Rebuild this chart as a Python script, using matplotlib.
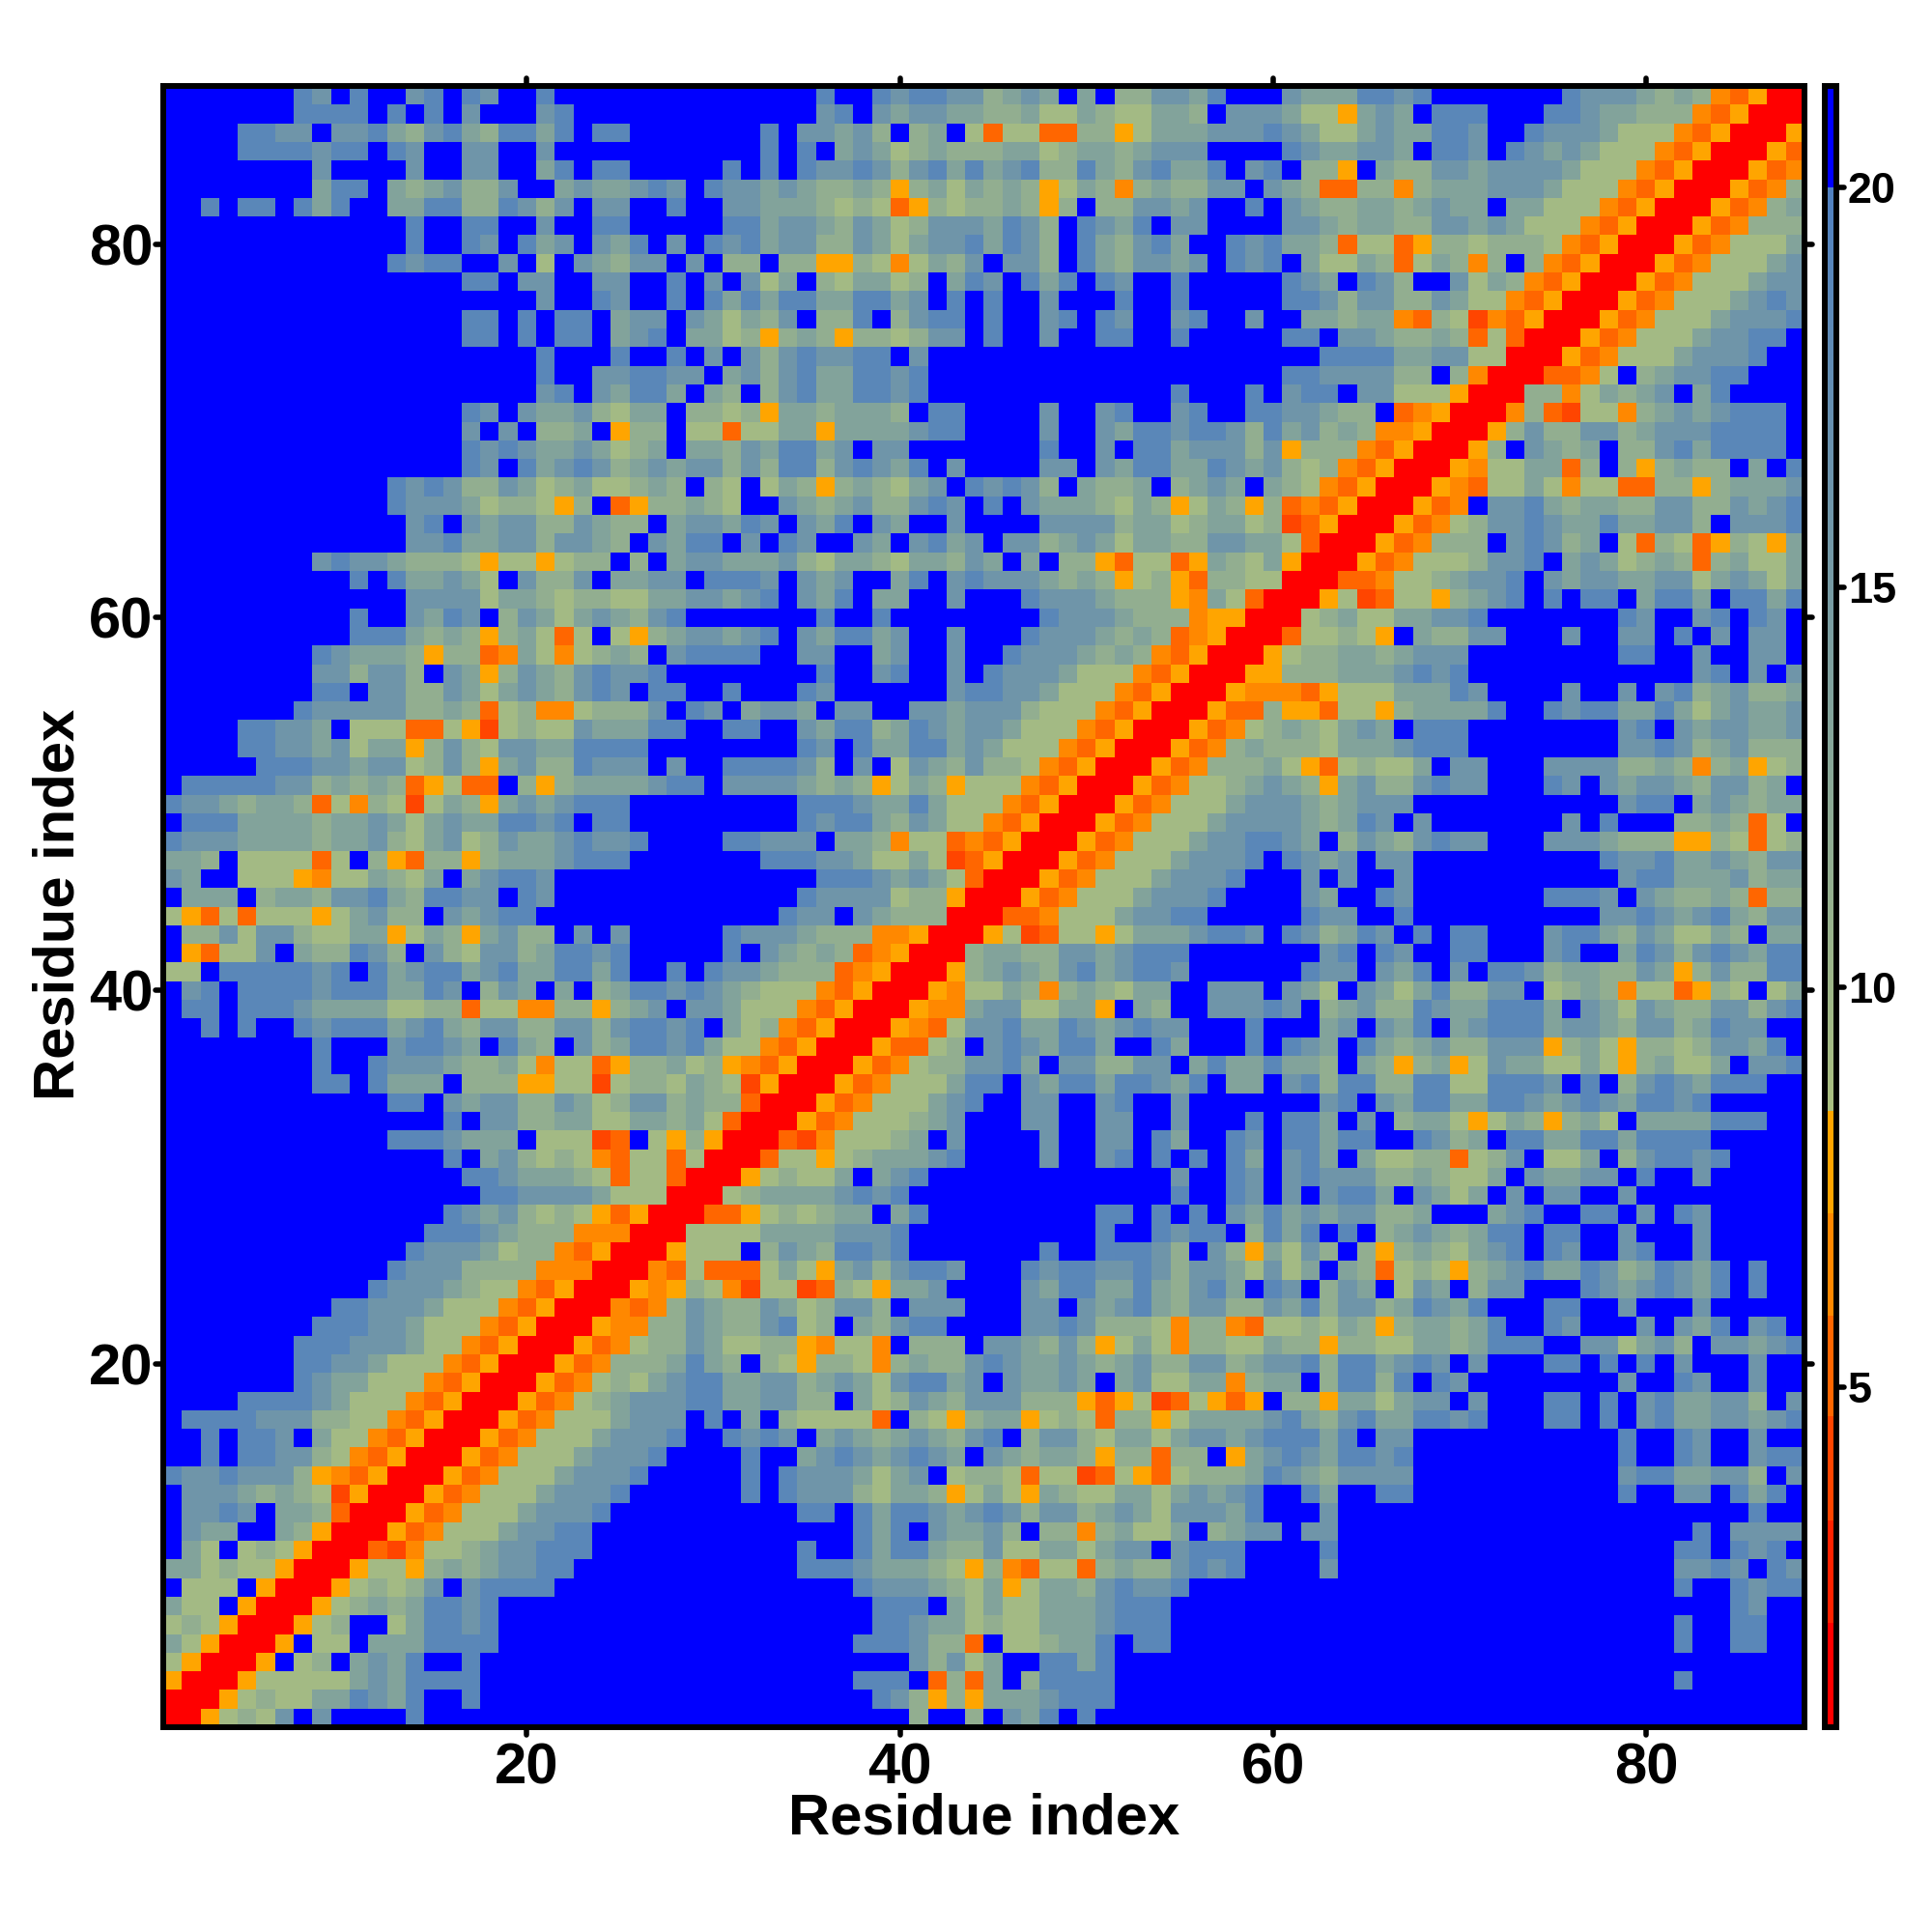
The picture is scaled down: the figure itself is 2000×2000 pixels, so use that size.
import matplotlib
matplotlib.use('Agg')
import matplotlib.pyplot as plt
import numpy as np
from matplotlib.colors import LinearSegmentedColormap
from matplotlib.markers import MarkerStyle

# distance map, one string per row from residue 88 down to residue 1
# . over 20, 9-5 steel blue to pale green, y u t s orange shades, r red
ROWS_LEFT = [
    ".......98.9..89.98..9........",
    ".......9999.9.9.8...89.......",
    "....9988.8897689769979.99....",
    "....9999899.98..88..8........",
    "........8....8..88..79.99....",
    "........799.7678668..7877898.",
    "..9.99.979..7799669868.88..9.",
    ".............9..99..8..99....",
    ".............9..98.978.879.8.",
    "............9899..8.5.87688.8",
    "................99.88..88..9.",
    "....................8..98..9.",
    "................99.9.99.788.8",
    "................99.9.99.789.7",
    "....................9...9..9.",
    "....................9..889988",
    "....................89.87997.",
    "................98.87786577.6",
    "................8.8.667.y66.5",
    "................98987787567.7",
    "................98.9789867878",
    "............9898668756755676.",
    "............988875665y6.ty667",
    ".............89.8788668766.78",
    ".............889778868876.879",
    "........898876665y55y566.6.78",
    "..........9.977875.8668.7788.",
    ".............8888577656655778",
    "..........9..8798.6875787689.",
    "..........9997676y675t5.5y678",
    "........987776y66tu75u5676.89",
    "........886886.87y687689889..",
    "........99.88668757876898.99.",
    ".......9888886676t56uu56668.9",
    "....99887.555tt5ys5655877799.",
    "....998878577y686588779999...",
    ".....999887885686y78669888.8.",
    ".999998867676ty5tt.6y67777899",
    "98876776t5u65s576y7878999....",
    ".999777767787578779989.99....",
    "98887777677865785687789889...",
    "776.5555t5.6yt66y67778999....",
    "87..555yu557657.78998........",
    ".777.6776889769988.98........",
    "5yt5t555y57866.87899.........",
    ".66858865577y576y7866.8.8....",
    ".yt558.766986.86588679989....",
    "55.9999989.97899789779979..9.",
    ".89.999989997798.687.7.679989",
    ".99.999877775566t55uu66y678.8",
    "..9.9..9899978976886688689989",
    "........9...89987.976.8679989",
    "........9..988876675u55ty6675",
    "........99.9777.666yy55s56657",
    "............99.87886687568867",
    "...............9.886677557767",
    "............9998777.555st.5y6",
    "...............9.786565ut55t5",
    "................99877765t55tr",
    ".................9988887555rr",
    "...............98786565ytyrrr",
    "..............99987666uuurrr5",
    ".............98887566utyrrry5",
    "............98886666uuurrrut5",
    "...........98887655utyrrryuy6",
    ".........998887555utyrrrutu68",
    "........999887555utyrrryuu668",
    ".......999888755utyrrrytu5668",
    ".......99887555utyrrrytu66679",
    ".......9877555utyrrrytu565789",
    "....999987555utyrrrytu5678889",
    ".99998886655utyrrrytu5557888.",
    "..9.998.755utyrrrytu55578889.",
    "..9.998865utyrrrytu55578889..",
    "98898886yutyrrrytu55578889...",
    ".88876765syrrrytu55578889....",
    ".8898.776trrrytu55578889.....",
    ".877..76yrrrytu55578899......",
    ".75.565yrrrtsu556788999......",
    "775655yrrry55y67678899.......",
    ".555.yrrry56568.89999........",
    "755.yrrry567679989...........",
    "565yrrry56..579989...........",
    "75yrrry.55.7779999...........",
    "5yrrry.56.7879..9............",
    "yrrry555557879999............",
    "rrry5655779879..9............",
    "rry5658.8....9...............",
]

ROWS_MID = [
    "......9..9899886787.7.668879..",
    "......89.878877667557655776.88",
    "...9.88786.67.5t55tt66y5777888",
    "...9.9.78756766677567767888...",
    ".9.9.98898689797896697689779.8",
    "9887876676y6757676y576u676688.",
    ".887776565ty656676y6.668878..9",
    ".997887687568887986.9879.88...",
    "9897886687578897986.976897..98",
    ".66.66yy65u5768.886.9768878.98",
    "8.857.657756.798.979.98..9....",
    "979799779978.9.9..8...9..9....",
    "75768.669.6899.9..89.98..89..8",
    "756y676y665688.9..8..99..9....",
    "8.86898899.8..................",
    ".78689779989..................",
    "76.689779989.............9...9",
    "656y7767776.99....8..89..89..9",
    "5t5577y7777899....8..879989986",
    "76879978.88.......9..8.9978886",
    "868699689879.8....88.879977987",
    "65.576y676578.98986.7667.6787.",
    "65..8767866898.9.87776576y576y",
    "8798.879.87..8....888867756775",
    "9.8.98..87.8978.88678757766887",
    "8777865776577687.7.66yt55ty765",
    "9998.878..79.898887676y56yt665",
    "8789.879.77..8...98887666yu75t",
    "......9..9........98887666uyyr",
    "8789.879978..8...98887676tuyrr",
    "999..88..78..8..98887676utyrrr",
    "......9..89..8.98887555utyrrry",
    ".9...98......899887555utyrrryu",
    "8.7887.88..8878886555utyrrrytt",
    ".99..879967987887555utyrrrytu5",
    ".....98.97799787555utyrrrytu67",
    ".999986.8.58768665utyrrrytu666",
    ".88887676y576y555utyrrrytu5567",
    ".....99987797555utyrrrytu55578",
    ".....9899768755utyrrrytu555788",
    ".99888.776u55tutyrrrytu5557889",
    "...9998875575styrrrytu55578889",
    "......99987875trrrytu55578889.",
    ".....98888566yrrrytu55578889..",
    "....988.87666rrrttu55578899...",
    ".98887666uuyrrry5st55y57778998",
    ".9.87676tuyrrr677668878999....",
    "9887666tuyrrry678768978998....",
    "876555utyrrryu5576u676577..888",
    "87555utyrrryuu7885577y.76..888",
    ".756utyrrryut5889779878988...9",
    "755utyrrrytt56.8987997..97...9",
    "6yutyrrrytu5668897.886688.7977",
    "65syrrrytu555799.8799799879.77",
    "66trrrytu555789..88..89..8....",
    "5trrrytu555678...88..88..8...9",
    "yrrrtsu55567.8....8..88.97..98",
    "rrrt55y5677789....8..89.9.9.97",
    "rry56557.789.............8..98",
    "r5677778989..............9..98",
    "tty565677.79.........99.9.9.87",
    "55577778889..........9..9899.6",
    "55.68769989.......9..99986.86y",
    "ttt575y7868998...9899889868875",
    "5us55st65y778....879977976897.",
    "7668756886.888...88.8789768866",
    "7668956.76899....88986665u66ut",
    "75566yu55u.666.887686y575u6655",
    "76.65y665u67668987787678668867",
    "977886787589978.87787.785577u6",
    "9778866.756876888666yty5st5yty",
    "9.7.65555t.65y677y565t66y57777",
    ".9898.7876787689.6886577578878",
    "..9..789878987.876776y66t66.y7",
    "..9.98887578.5665t55st5yt56667",
    "..9.988865776y575y765577578789",
    ".....99.9799878986886787588879",
    "........979.87786.66u67557.678",
    ".....9..9799766855775788.8999.",
    ".....999877765y6ut55t67668989.",
    "........98887657y577689889....",
    ".........999.757557778999.....",
    ".........9987756557778999.....",
    "........999866t.556779.99.....",
    "...........86857..9979........",
    "........999.t6t7.69999........",
    ".........986y6y7778999........",
    "...........6..6.879.9.........",
]

ROWS_RIGHT = [
    ".87779989.......98887676utyrr",
    "8755y787.999...99877666utyrrr",
    "987557877998..98887555utyrrry",
    ".9877887.998.98787555utyrrryt",
    "9.66y.76688788887555utyrrrytu",
    "876tt66u67778887555utyrrrytu6",
    ".87667767877.77555utyrrrytu67",
    ".8876776688787555utyrrrytu666",
    "9776t55ty6656665utyrrrytu5557",
    "9.75576t576u6.6utyrrrytu55578",
    ".987.986..8576utyrrrytu555788",
    ".998688668755utyrrrytu5557898",
    "..77677ut65sutyrrrytu55578889",
    ".99.8876676t5trrrytu55578899.",
    "...9999778855rrrytu55578889..",
    ".99888866.6urrrttu5.678899...",
    ".899.88555yrrr66u57678.79....",
    "988766.tuyrrru6ts55u67878999.",
    "978676uuyrrry686688678889999.",
    "8y666utyrrry6.8767.668979999.",
    "8656utyrrryu5577t6.6y6766.7.9",
    "765utyrrryut5575u55tt66y67778",
    "6tutyrrrytu.88976776688668789",
    "6styrrrytu56889877977886.8889",
    "75trrrytu666.89867.5t65ty65y7",
    "7yrrrytu5556889.7875676t67557",
    "5rrrttu5567889.87887788578757",
    "rrry5st55y6789.9.99.7997.9979",
    "rr5675577889.......98..89.98.",
    "rt5565y.76688...8..88.9.8.88.",
    "y5667767888........99..8..88.",
    "y6667778989............89.8.8",
    "uuty55577798....8..8.89678667",
    "6yyt55y677779..98997797578778",
    "6765787.999........89.8788778",
    "66657778999........8898678666",
    "75yt56557.88...88886676u67y56",
    "876y78668988...98.8788768867.",
    "88767888...........899.787677",
    "8876798.8.......8.9...6676t5.",
    "987.68768988...8887666yy65t56",
    ".9878.88..........98897787688",
    "..8.8..8...........8997778677",
    "..87..98.......9998.876676t66",
    "..988..9..........88987897688",
    ".986798.9.99...89976875576.77",
    "...89.98..99...89..7986898799",
    "..988.879.8.9986776687y686699",
    ".875.875796688.5676u55ty65.57",
    "98.6786698779997.875876688689",
    "...78.879.78999788768867988..",
    ".987.9767866888y675y66568879.",
    "9776.76y67y58775575y67557.889",
    ".896996699559998.9.68987999..",
    "...89.879977998789879989.....",
    ".997.8.6775y576y675.7777999..",
    ".99799..9867.99779979999.....",
    ".897.75566t568.557.689989....",
    ".898886676557.87788.9..8.....",
    ".8.8997.8757.8.88..8.........",
    "978788667...789..99.8.98.....",
    "979.9.67876799.99..8...8.....",
    "7586.6y6765789.98..89..8.....",
    "857.76t565y67897798679879.9..",
    "98.687.587.688...98789879.9..",
    "879688679879...99..8...8.....",
    "556576y677679..98...8.879.89.",
    "766y66557767999..885786.88789",
    "8896997898.8...99.9.9.8...8..",
    "77.69969.98........8..98..8..",
    ".66y775788.8...99.9.8977886.8",
    "897689779989...99.9.897788789",
    "99979.88...........9..98..8..",
    "89879989...........9..98..899",
    "98768888...........89977886.8",
    "..97..99...........9..88.979.",
    "...8......................9..",
    "8.88...................9.8888",
    "...9..................99.989.",
    "...8..................8898.98",
    "......................9..9899",
    ".........................98..",
    "......................9..99..",
    "......................9..99..",
    ".............................",
    "......................9......",
    ".............................",
    ".............................",
]

# distance in angstrom for each letter
LEVELS = {'.': 21.0, '9': 18.7, '8': 16.0, '7': 13.5, '6': 11.5, '5': 9.3,
          'y': 7.8, 'u': 6.5, 't': 5.2, 's': 4.0, 'r': 1.5}

TICKS = [20, 40, 60, 80]
BAR_TICKS = [5, 10, 15, 20]
VMIN, VMAX = 0.75, 21.27


def build_matrix():
    bad = [i for i in range(88) if (len(ROWS_LEFT[i]), len(ROWS_MID[i]), len(ROWS_RIGHT[i])) != (29, 30, 29)]
    if len(ROWS_LEFT) != 88 or len(ROWS_MID) != 88 or len(ROWS_RIGHT) != 88 or bad:
        raise ValueError("bad rows %s %s" % (bad, [(len(ROWS_LEFT[i]), len(ROWS_MID[i]), len(ROWS_RIGHT[i])) for i in bad]))
    rows = [a + b + c for a, b, c in zip(ROWS_LEFT, ROWS_MID, ROWS_RIGHT)]
    return np.array([[LEVELS[c] for c in row] for row in rows])[::-1]


def build_cmap():
    stops = [(VMIN, '#ff0000'), (2.05, '#ff0000'), (2.05, '#ff2200'), (3.33, '#ff2200'),
             (3.33, '#ff4500'), (4.63, '#ff4500'), (4.63, '#ff6600'), (5.9, '#ff6600'),
             (5.9, '#ff8800'), (7.17, '#ff8800'), (7.17, '#ffa500'), (8.45, '#ffa500'),
             (8.45, '#aabf80'), (20.0, '#5080c0'), (20.0, '#0000ff'), (VMAX, '#0000ff')]
    return LinearSegmentedColormap.from_list('dist', [((v - VMIN) / (VMAX - VMIN), c) for v, c in stops], N=2048)


def round_ticks(axis):
    for tick in axis.get_major_ticks():
        for line in (tick.tick1line, tick.tick2line):
            line.set_marker(MarkerStyle(line.get_marker(), capstyle='round'))


def main():
    plt.rcParams['font.family'] = ['Liberation Sans', 'DejaVu Sans']
    plt.rcParams['font.weight'] = 'bold'

    fig = plt.figure(figsize=(20, 20), dpi=100)
    ax = fig.add_axes([169 / 2000, 1 - 1788 / 2000, 1699 / 2000, 1699 / 2000])
    im = ax.imshow(build_matrix(), cmap=build_cmap(), vmin=VMIN, vmax=VMAX, origin='lower',
                   extent=(0.5, 88.5, 0.5, 88.5), aspect='auto', interpolation='nearest')

    ax.set_xticks(TICKS)
    ax.set_yticks(TICKS)
    ax.tick_params(axis='both', direction='out', length=6, width=4, labelsize=43, top=True, right=True)
    ax.tick_params(axis='x', pad=5.5)
    ax.tick_params(axis='y', pad=1.8)
    round_ticks(ax.xaxis)
    round_ticks(ax.yaxis)
    for spine in ax.spines.values():
        spine.set_linewidth(4.3)

    ax.set_xlabel('Residue index', fontsize=43, fontweight='bold', va='center')
    ax.set_ylabel('Residue index', fontsize=43, fontweight='bold', va='center')
    ax.xaxis.set_label_coords(0.5, -0.0557)
    ax.yaxis.set_label_coords(-0.0633, 0.5015)

    cax = fig.add_axes([1889 / 2000, 1 - 1788 / 2000, 12 / 2000, 1699 / 2000])
    cbar = fig.colorbar(im, cax=cax)
    cbar.set_ticks(BAR_TICKS)
    cbar.outline.set_linewidth(4.3)
    cax.tick_params(axis='y', direction='out', length=6, width=4, labelsize=32.4, pad=2.5)
    round_ticks(cax.yaxis)

    fig.savefig('out.png', dpi=100)


if __name__ == '__main__':
    main()
